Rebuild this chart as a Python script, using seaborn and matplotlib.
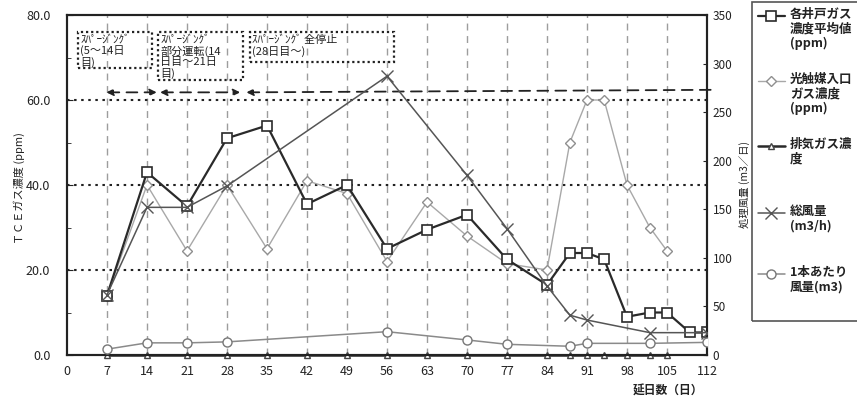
import matplotlib
matplotlib.use("Agg")
import matplotlib.pyplot as plt
import seaborn as sns
from matplotlib.lines import Line2D
from matplotlib.patches import Rectangle
from matplotlib.ticker import MultipleLocator

# ------------------------------------------------------------------ #
# values
# ------------------------------------------------------------------ #
day_ticks = [0, 7, 14, 21, 28, 35, 42, 49, 56, 63, 70, 77, 84, 91, 98, 105, 112]
ppm_ticks = [0, 20, 40, 60, 80]
flow_ticks = [0, 50, 100, 150, 200, 250, 300, 350]

# 各井戸ガス濃度平均値 (ppm) - left axis
avg_days = [7, 14, 21, 28, 35, 42, 49, 56, 63, 70, 77, 84, 88, 91, 94, 98, 102, 105, 109, 112]
avg_ppm = [14, 43, 35, 51, 54, 35.5, 40, 25, 29.5, 33, 22.5, 16.5, 24, 24, 22.5, 9, 10, 10, 5.3, 5.3]

# 光触媒入口ガス濃度 (ppm) - left axis
inlet_days = [7, 14, 21, 28, 35, 42, 49, 56, 63, 70, 77, 84, 88, 91, 94, 98, 102, 105]
inlet_ppm = [14, 40, 24.5, 40, 25, 41, 38, 22, 36, 28, 21.5, 20, 50, 60, 60, 40, 30, 24.5]

# 排気ガス濃度 (ppm) - left axis
exhaust_days = [7, 14, 21, 28, 35, 42, 49, 56, 63, 70, 77, 84, 88, 91, 94, 98, 102, 105]
exhaust_ppm = [0, 0, 0, 0, 0, 0, 0, 0, 0, 0, 0, 0, 0, 0, 0, 0, 0, 0]

# 総風量 (m3/h) - right axis
flow_days = [7, 14, 21, 28, 56, 70, 77, 84, 88, 91, 102, 112]
flow_total = [62, 152, 152, 174, 287, 185, 130, 71, 41, 36, 23, 23]

# 1本あたり風量 (m3) - right axis
well_days = [7, 14, 21, 28, 56, 70, 77, 88, 91, 102, 112]
well_flow = [6, 12.5, 12.5, 13.5, 24, 15.5, 11, 9, 12, 12, 13]

legend_labels = [
    "各井戸ガス\n濃度平均値\n(ppm)",
    "光触媒入口\nガス濃度\n(ppm)",
    "排気ガス濃\n度",
    "総風量\n(m3/h)",
    "1本あたり\n風量(m3)",
]

box_texts = [
    "ｽﾊﾟｰｼﾞﾝｸﾞ\n(5～14日\n目)",
    "ｽﾊﾟｰｼﾞﾝｸﾞ\n部分運転(14\n日目～21日\n目)",
    "ｽﾊﾟｰｼﾞﾝｸﾞ 全停止\n(28日目～)",
]

# ------------------------------------------------------------------ #
sns.set_style("white")
plt.rcParams["font.family"] = ["Noto Sans CJK JP", "DejaVu Sans"]
plt.rcParams["axes.unicode_minus"] = False

W, H = 857, 398
fig = plt.figure(figsize=(W / 100, H / 100), dpi=100)
ax = fig.add_axes([67 / W, 1 - 355 / H, 640 / W, 340 / H])
ax2 = ax.twinx()

ink = "#222222"

# grid: dashed verticals at each week, dotted horizontals
for d in day_ticks[1:-1]:
    ax.axvline(d, color="#9d9d9d", lw=1.0, ls=(0, (5, 4)), zorder=0)
for p in ppm_ticks[1:-1]:
    ax.axhline(p, color=ink, lw=1.5, ls=(0, (1.2, 2.2)), zorder=0)

styles = {
    "avg": dict(color="#2a2a2a", linewidth=1.6, marker="s", markersize=6.5,
                markerfacecolor="white", markeredgecolor="#2a2a2a", markeredgewidth=1.2),
    "inlet": dict(color="#a8a8a8", linewidth=1.0, marker="D", markersize=5,
                  markerfacecolor="white", markeredgecolor="#8f8f8f", markeredgewidth=1.0),
    "exhaust": dict(color="#2a2a2a", linewidth=1.8, marker="^", markersize=5,
                    markerfacecolor="white", markeredgecolor="#444444", markeredgewidth=1.0),
    "flow": dict(color="#555555", linewidth=1.1, marker="x", markersize=8,
                 markeredgecolor="#555555", markeredgewidth=1.0),
    "well": dict(color="#8a8a8a", linewidth=1.1, marker="o", markersize=6.5,
                 markerfacecolor="white", markeredgecolor="#777777", markeredgewidth=1.0),
}

sns.lineplot(x=inlet_days, y=inlet_ppm, ax=ax, zorder=3, **styles["inlet"])
sns.lineplot(x=avg_days, y=avg_ppm, ax=ax, zorder=5, **styles["avg"])
sns.lineplot(x=exhaust_days, y=exhaust_ppm, ax=ax, zorder=6, clip_on=False, **styles["exhaust"])
sns.lineplot(x=well_days, y=well_flow, ax=ax2, zorder=3, **styles["well"])
sns.lineplot(x=flow_days, y=flow_total, ax=ax2, zorder=4, **styles["flow"])

# axes, ticks
ax.set_xlim(0, 112)
ax.set_ylim(0, 80)
ax2.set_ylim(0, 350)
ax.set_xticks(day_ticks)
ax.set_yticks(ppm_ticks)
ax.set_yticklabels([f"{v:.1f}" for v in ppm_ticks])
ax.yaxis.set_minor_locator(MultipleLocator(10))
ax2.set_yticks(flow_ticks)

ax.tick_params(axis="x", direction="in", length=0, pad=7, labelsize=9, colors=ink)
ax.tick_params(axis="y", which="major", direction="in", length=4, pad=12, labelsize=9, colors=ink)
ax.tick_params(axis="y", which="minor", direction="in", length=3, left=True, colors=ink)
ax2.tick_params(axis="y", direction="in", length=3, pad=4, labelsize=8.5, colors=ink)

for a in (ax, ax2):
    for s in a.spines.values():
        s.set_color(ink)
        s.set_linewidth(1.5)

ax.set_xlabel("延日数（日）", fontsize=8.5, fontweight="bold", color=ink)
ax.xaxis.set_label_coords(0.939, -0.088)
ax.set_ylabel("ＴＣＥガス濃度 (ppm)", fontsize=8, color=ink)
ax.yaxis.set_label_coords(-0.066, 0.49)
ax2.set_ylabel("処理風量 (m3／日)", fontsize=7.5, color=ink)
ax2.yaxis.set_label_coords(1.05, 0.5)

# period boxes (dotted frames, text clipped by the frame)
boxes = [(1.9, 67.5, 13.0, 8.5), (15.9, 64.7, 14.9, 11.3), (32.0, 69.0, 25.2, 7.0)]
for (x0, y0, w, h), txt in zip(boxes, box_texts):
    rect = Rectangle((x0, y0), w, h, fill=False, ec=ink, lw=1.6, ls=(0, (1, 1.3)), zorder=7)
    ax.add_patch(rect)
    t = ax.text(x0 + 0.4, y0 + h - 0.6, txt, ha="left", va="top", fontsize=8,
                linespacing=1.1, color=ink, zorder=7)
    t.set_clip_path(rect)

# operating-period arrows
arrow_kw = dict(color=ink, lw=1.3, ls=(0, (6, 4)), shrinkA=0, shrinkB=0, mutation_scale=10)
ax.annotate("", xy=(15.7, 61.8), xytext=(6.9, 61.8),
            arrowprops=dict(arrowstyle="<|-|>", **arrow_kw))
ax.annotate("", xy=(30.3, 61.8), xytext=(16.3, 61.8),
            arrowprops=dict(arrowstyle="<|-|>", **arrow_kw))
ax.annotate("", xy=(113.9, 62.4), xytext=(31.4, 61.8), annotation_clip=False,
            arrowprops=dict(arrowstyle="<|-", **arrow_kw))

# legend panel drawn at figure level (handle aligned with first text line)
fig.add_artist(Rectangle((752 / W, 1 - 321 / H), 200 / W, 319 / H, transform=fig.transFigure,
                         fill=False, ec="#555555", lw=1.2))
entry_y = [16, 81, 146, 213, 274]
for key, label, py in zip(["avg", "inlet", "exhaust", "flow", "well"], legend_labels, entry_y):
    yy = 1 - py / H
    fig.add_artist(Line2D([758 / W, 771 / W, 785 / W], [yy, yy, yy], transform=fig.transFigure,
                          markevery=[1], **styles[key]))
    fig.text(790 / W, yy + 8 / H, label, ha="left", va="top", fontsize=9, fontweight="bold",
             linespacing=1.15, color=ink)

fig.savefig("out.png", dpi=100)
